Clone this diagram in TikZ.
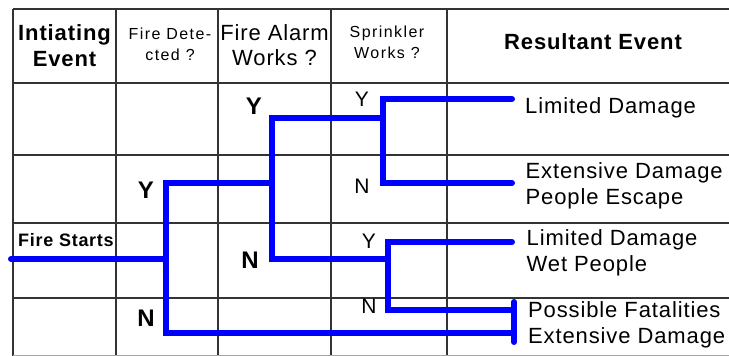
\documentclass[tikz,border=0pt]{standalone}
\usepackage{fontspec}
\setmainfont{Liberation Sans}
\newfontfamily\mainf{Liberation Sans}[LetterSpace=4]
\newfontfamily\smallf{Liberation Sans}[LetterSpace=9]
\tikzset{
  tbl/.style={draw=black!80, line width=1.2pt},
  br/.style={draw=blue, line width=6pt, line cap=round, line join=miter},
  hdr/.style={anchor=base, align=center, inner sep=0pt, font=\mainf\fontsize{22}{25.3}\selectfont},
  hdrb/.style={anchor=base, align=center, inner sep=0pt, font=\mainf\bfseries\fontsize{22}{25.3}\selectfont},
  hdrs/.style={anchor=base, align=center, inner sep=0pt, font=\smallf\fontsize{16}{20.5}\selectfont},
  res/.style={anchor=base west, align=left, inner sep=0pt, font=\mainf\fontsize{22}{25.5}\selectfont},
  yb/.style={inner sep=0pt, font=\mainf\bfseries\fontsize{24}{24}\selectfont},
  yn/.style={inner sep=0pt, font=\mainf\fontsize{21}{21}\selectfont},
}
\begin{document}
\begin{tikzpicture}[x=1pt,y=-1pt]
\useasboundingbox (0,0) rectangle (729,356);
% table
\foreach \y in {9,83,155,223,298} \draw[tbl] (13,\y) -- (729,\y);
\foreach \x in {13,116,218,331,447} \draw[tbl] (\x,9) -- (\x,356);
\draw[draw=black!35, line width=0.8pt] (13,355) -- (729,355);
% headers (anchor=base is the last line's baseline)
\node[hdrb] (h1) at (64.5,66) {Intiating\\Event};
\node[hdrs] (h2) at (170,60) {Fire Dete-\\cted ?};
\node[hdr]  (h3) at (274.5,65.7) {Fire Alarm\\Works ?};
\node[hdrs] (h4) at (387,58.3) {Sprinkler\\Works ?};
\node[hdrb] (h5) at (593,49) {Resultant Event};
% initiating event
\node[res, font=\mainf\bfseries\fontsize{18}{18}\selectfont] (fs) at (18,246) {Fire Starts};
% outcomes
\node[res] (o1) at (525,113.3) {Limited Damage};
\node[res] (o2) at (525.5,204.3) {Extensive Damage\\People Escape};
\node[res] (o3) at (526.5,271) {Limited Damage\\Wet People};
\node[res] (o4) at (528,343.3) {Possible Fatalities\\Extensive Damage};
% branch points
\coordinate (start) at (11,259);
\coordinate (dJ) at (166,259);
\coordinate (dTop) at (166,183);
\coordinate (dBot) at (166,333);
\coordinate (aJ) at (272,183);
\coordinate (aTop) at (272,118);
\coordinate (aBot) at (272,259);
\coordinate (sTopJ) at (383,118);
\coordinate (s1top) at (383,99);
\coordinate (s1bot) at (383,183);
\coordinate (sBotJ) at (388,259);
\coordinate (s2top) at (388,242);
\coordinate (s2bot) at (388,310);
\coordinate (e1) at (512,99);
\coordinate (e2) at (512,183);
\coordinate (e3) at (512,242);
\coordinate (e4) at (514,310);
\coordinate (e5) at (514,333);
\coordinate (barT) at (514,302);
\coordinate (barB) at (514,342);
% branches
\draw[br] (start) -- (dJ);
\draw[br] (aJ) -- (dTop) -- (dBot) -- (e5);
\draw[br] (sTopJ) -- (aTop) -- (aBot) -- (sBotJ);
\draw[br] (e1) -- (s1top) -- (s1bot) -- (e2);
\draw[br] (e3) -- (s2top) -- (s2bot) -- (e4);
\draw[br] (barT) -- (barB);
% Y / N labels
\node[yb] (ya) at (254,106) {Y};
\node[yb] (yd) at (146,190) {Y};
\node[yb] (nd) at (146,318) {N};
\node[yb] (na) at (250,260) {N};
\node[yn] (ys1) at (362,99) {Y};
\node[yn] (ns1) at (362,186) {N};
\node[yn] (ys2) at (369,241) {Y};
\node[yn] (ns2) at (369,306) {N};
\end{tikzpicture}
\end{document}
